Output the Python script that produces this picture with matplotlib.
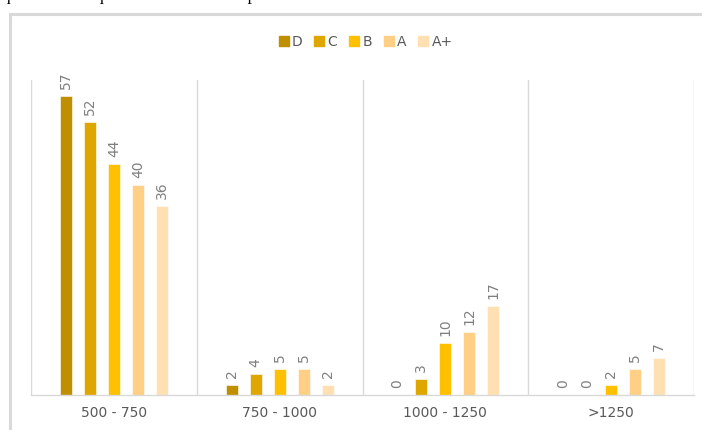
import numpy as np
import matplotlib
matplotlib.use("Agg")
from matplotlib import pyplot as plt
from matplotlib.patches import Rectangle
from matplotlib.lines import Line2D

categories = ["500 - 750", "750 - 1000", "1000 - 1250", ">1250"]
grades = ["D", "C", "B", "A", "A+"]
counts = {
    "D": [57, 2, 0, 0],
    "C": [52, 4, 3, 0],
    "B": [44, 5, 10, 2],
    "A": [40, 5, 12, 5],
    "A+": [36, 2, 17, 7],
}
colors = ["#BF8F00", "#E0A600", "#FFC000", "#FFCF85", "#FFE0B3"]

W, H = 702, 430
fig = plt.figure(figsize=(W / 100, H / 100), dpi=100)

# frame around the chart, running off the right and bottom edges
fig.patches.append(Rectangle((9.5 / W, -0.2), 1.2, 1.2 - 14 / H,
                             transform=fig.transFigure, fill=False,
                             edgecolor="#d9d9d9", lw=2.2, zorder=0))
# caption line above, mostly cut off by the top edge
fig.text(2 / W, 1 - 0.3 / H, "quantidade e qualidade da amostra por faixa de área",
         family="Liberation Serif", fontsize=12.5, color="black",
         va="baseline", ha="left")

ax = fig.add_axes([31 / W, 35 / H, 663 / W, 315 / H])
x = np.arange(len(categories))
step = 24 / 166
width = 12 / 166
for j, g in enumerate(grades):
    pos = x + (j - 2) * step
    bars = ax.bar(pos, counts[g], width, color=colors[j], edgecolor="white",
                  linewidth=0.4, label=g, zorder=2)
    for b, v in zip(bars, counts[g]):
        ax.annotate(str(v), (b.get_x() + b.get_width() / 2, v), xytext=(0, 5),
                    textcoords="offset points", rotation=90, ha="center",
                    va="bottom", fontsize=10, color="#7f7f7f")

ax.set_xlim(-0.5, len(categories) - 0.5)
ax.set_ylim(0, 60)
for b in np.arange(len(categories) + 1) - 0.5:
    ax.axvline(b, color="#d9d9d9", lw=1, zorder=1)
ax.set_yticks([])
ax.set_xticks(x)
ax.set_xticklabels(categories, fontsize=10, color="#595959")
ax.tick_params(axis="x", length=0, pad=8)
for s in ["top", "right", "left"]:
    ax.spines[s].set_visible(False)
ax.spines["bottom"].set_color("#d9d9d9")
ax.spines["bottom"].set_linewidth(1)

handles = [Line2D([], [], marker="s", ls="", markersize=7, color=c) for c in colors]
fig.legend(handles, grades, loc="center", bbox_to_anchor=(366 / W, 1 - 42 / H),
           ncol=5, frameon=False, handlelength=0.6, handletextpad=0.3,
           columnspacing=0.9, fontsize=10, labelcolor="#595959")

fig.savefig("out.png", dpi=100)
